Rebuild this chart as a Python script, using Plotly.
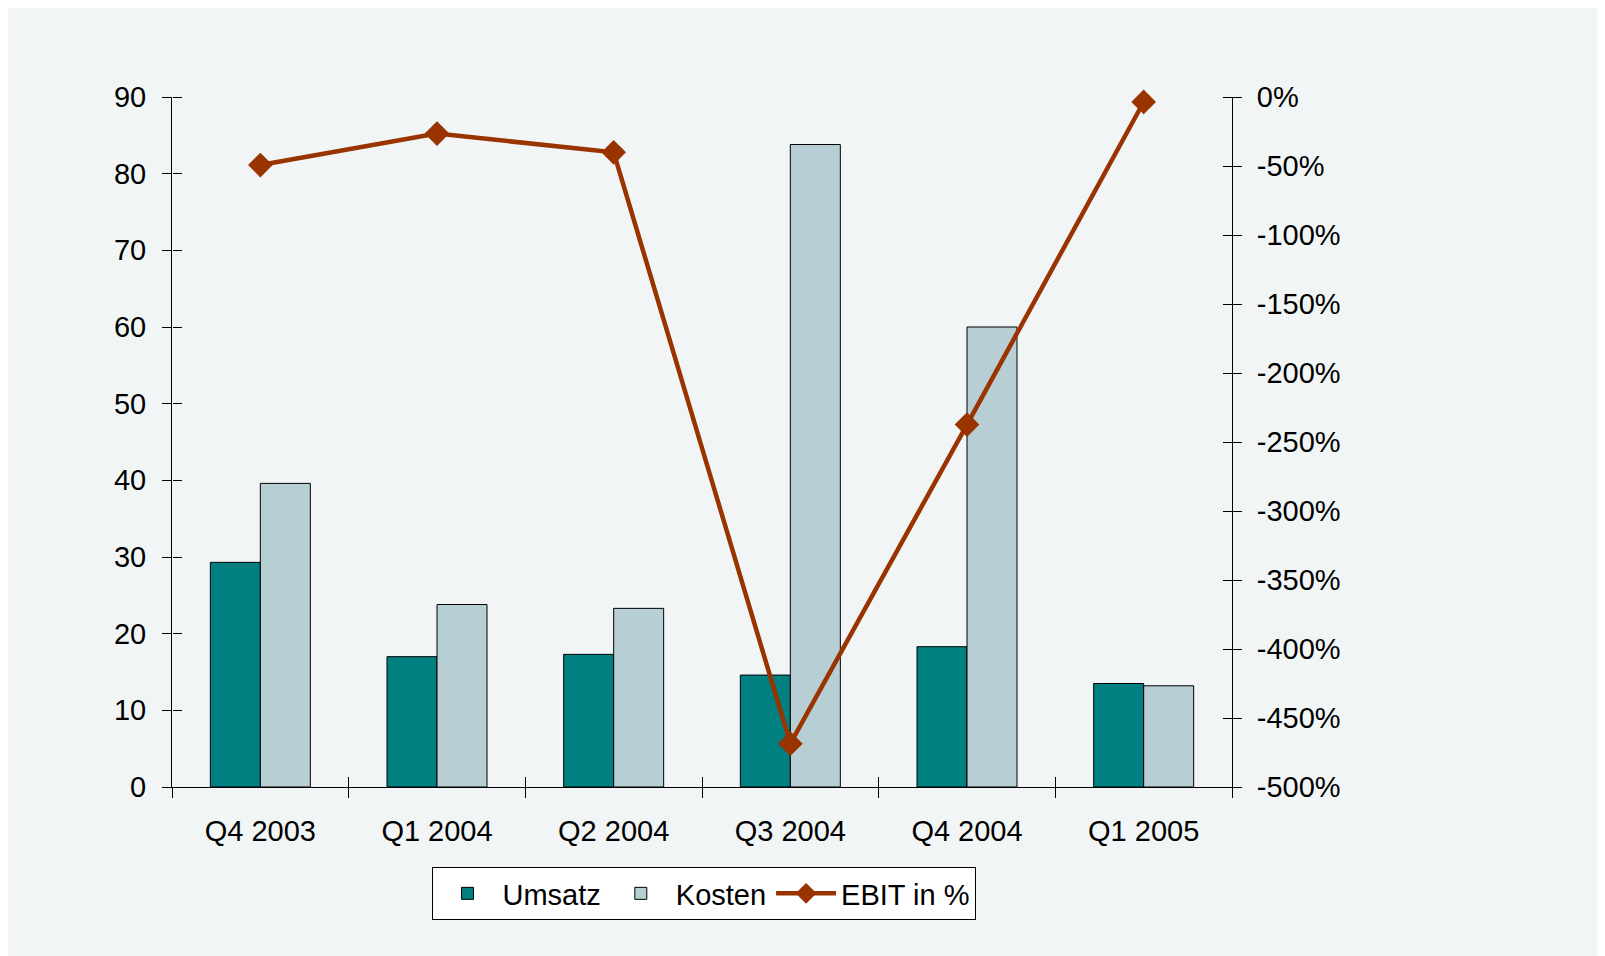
import plotly.graph_objects as go

categories = ["Q4 2003", "Q1 2004", "Q2 2004", "Q3 2004", "Q4 2004", "Q1 2005"]
umsatz = [29.3, 17.0, 17.3, 14.6, 18.3, 13.5]
kosten = [39.6, 23.8, 23.3, 83.8, 60.0, 13.2]
ebit_pct = [-49.3, -26.5, -40.1, -468.6, -237.4, -3.6]

left_ticks = [0, 10, 20, 30, 40, 50, 60, 70, 80, 90]
right_ticks = [0, -50, -100, -150, -200, -250, -300, -350, -400, -450, -500]
right_ticktext = [f"{v}%" for v in right_ticks]
boundaries = [i - 0.5 for i in range(len(categories) + 1)]

FONT = "Liberation Sans, Arial, sans-serif"
TEAL = "#008080"
LIGHT = "#B7CFD4"
RED = "#993300"
PANEL = "#F2F5F6"

W, H = 1605, 956
ML, MR, MT, MB = 164, 381, 89, 177
pw, ph = W - ML - MR, H - MT - MB

fig = go.Figure()
fig.add_trace(go.Bar(x=categories, y=umsatz, name="Umsatz",
                     marker=dict(color=TEAL, line=dict(color="black", width=1))))
fig.add_trace(go.Bar(x=categories, y=kosten, name="Kosten",
                     marker=dict(color=LIGHT, line=dict(color="black", width=1))))
fig.add_trace(go.Scatter(x=categories, y=ebit_pct, name="EBIT in %", yaxis="y2",
                         mode="lines+markers", cliponaxis=False,
                         line=dict(color=RED, width=4.5),
                         marker=dict(symbol="diamond", size=19, color=RED)))

# invisible helper traces so the extra tick axes (inner half of crossing ticks) are drawn
fig.add_trace(go.Scatter(x=[boundaries[0]], y=[left_ticks[0]], xaxis="x2", yaxis="y3",
                         mode="markers", marker=dict(opacity=0, size=1),
                         showlegend=False, hoverinfo="skip"))
fig.add_trace(go.Scatter(x=[boundaries[0]], y=[right_ticks[0]], xaxis="x2", yaxis="y4",
                         mode="markers", marker=dict(opacity=0, size=1),
                         showlegend=False, hoverinfo="skip"))

axis_font = dict(family=FONT, size=29, color="black")
tick_common = dict(ticklen=9, tickwidth=1, tickcolor="black")

fig.update_layout(
    width=W, height=H,
    margin=dict(l=ML, r=MR, t=MT, b=MB, pad=0),
    paper_bgcolor=PANEL,
    plot_bgcolor="rgba(0,0,0,0)",
    font=axis_font,
    barmode="group",
    bargap=0.434,
    bargroupgap=0,
    showlegend=True,
    legend=dict(orientation="h", x=(703.5 - 8 - ML) / pw, xanchor="center",
                y=(MT + ph - 859) / ph, yanchor="top",
                bgcolor="white", bordercolor="black", borderwidth=1,
                font=dict(family=FONT, size=29, color="black"),
                itemwidth=60, traceorder="normal"),
    xaxis=dict(type="category", categoryorder="array", categoryarray=categories,
               range=[-0.5, len(categories) - 0.5], domain=[0, 1],
               showline=True, linecolor="black", linewidth=1,
               ticks="outside", ticklen=10, tickwidth=1, tickcolor="black",
               tickson="boundaries", showgrid=False, zeroline=False,
               tickfont=axis_font, ticklabelstandoff=18),
    xaxis2=dict(overlaying="x", anchor="y", side="bottom", type="linear",
                range=[-0.5, len(categories) - 0.5],
                tickmode="array", tickvals=boundaries,
                ticks="inside", ticklen=10, tickwidth=1, tickcolor="black",
                showticklabels=False, showline=False, showgrid=False, zeroline=False),
    yaxis=dict(range=[0, 90], tickmode="array", tickvals=left_ticks,
               showline=True, linecolor="black", linewidth=1,
               ticks="outside", **tick_common,
               showgrid=False, zeroline=False, tickfont=axis_font,
               ticklabelstandoff=10),
    yaxis3=dict(overlaying="y", anchor="free", position=0, side="right",
                range=[0, 90], tickmode="array", tickvals=left_ticks,
                ticks="outside", **tick_common,
                showticklabels=False, showline=False, showgrid=False, zeroline=False),
    yaxis2=dict(overlaying="y", anchor="x", side="right", range=[-500, 0],
                tickmode="array", tickvals=right_ticks, ticktext=right_ticktext,
                showline=True, linecolor="black", linewidth=1,
                ticks="outside", **tick_common,
                showgrid=False, zeroline=False, tickfont=axis_font,
                ticklabelstandoff=9),
    yaxis4=dict(overlaying="y", anchor="free", position=1, side="left",
                range=[-500, 0], tickmode="array", tickvals=right_ticks,
                ticks="outside", **tick_common,
                showticklabels=False, showline=False, showgrid=False, zeroline=False),
)

fig.write_html("out.html")
